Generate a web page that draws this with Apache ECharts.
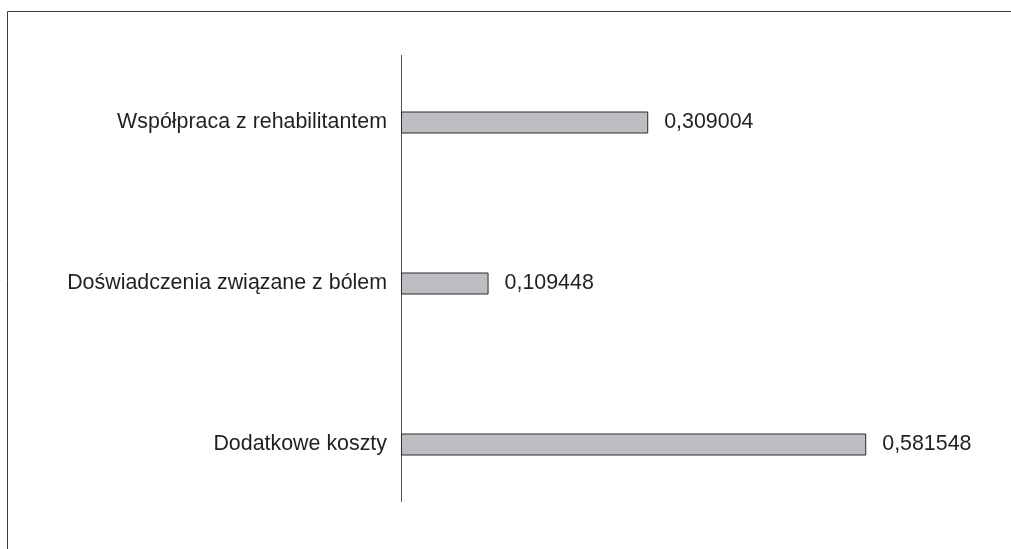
<!DOCTYPE html>
<html><head><meta charset="utf-8">
<script src="https://cdn.jsdelivr.net/npm/echarts@6/dist/echarts.min.js"></script>
<style>html,body{margin:0;padding:0;background:#fff}#c{width:1011px;height:549px}</style>
</head><body><div id="c"></div>
<script>
const categories = ["Dodatkowe koszty", "Doświadczenia związane z bólem", "Współpraca z rehabilitantem"];
const values = [0.581548, 0.109448, 0.309004];
const valueLabels = ["0,581548", "0,109448", "0,309004"];

const chart = echarts.init(document.getElementById('c'));
chart.setOption({
  animation: false,
  backgroundColor: '#fff',
  grid: { left: 401, right: 10, top: 42, bottom: 24, containLabel: false },
  xAxis: { type: 'value', min: 0, max: 0.75, show: false },
  yAxis: {
    type: 'category', data: categories,
    axisLine: { show: false }, axisTick: { show: false }, splitLine: { show: false },
    axisLabel: { fontFamily: 'Liberation Sans, Arial, sans-serif', fontSize: 21.4, color: '#231f20', margin: 14 }
  },
  series: [{
    type: 'bar', data: values, barWidth: 22,
    itemStyle: { color: '#bdbec2', borderColor: '#2b2b2b', borderWidth: 1 },
    label: {
      show: true, position: 'right', distance: 16,
      fontFamily: 'Liberation Sans, Arial, sans-serif', fontSize: 21.4, color: '#231f20',
      formatter: p => valueLabels[p.dataIndex]
    }
  }],
  graphic: [
    { type: 'line', shape: { x1: 7.5, y1: 11.5, x2: 1020, y2: 11.5 }, style: { stroke: '#3a3a3a', lineWidth: 1 } },
    { type: 'line', shape: { x1: 7.5, y1: 11.5, x2: 7.5, y2: 560 }, style: { stroke: '#3a3a3a', lineWidth: 1 } },
    { type: 'line', shape: { x1: 401.5, y1: 55, x2: 401.5, y2: 502 }, style: { stroke: '#555', lineWidth: 1 } }
  ]
});
</script></body></html>
